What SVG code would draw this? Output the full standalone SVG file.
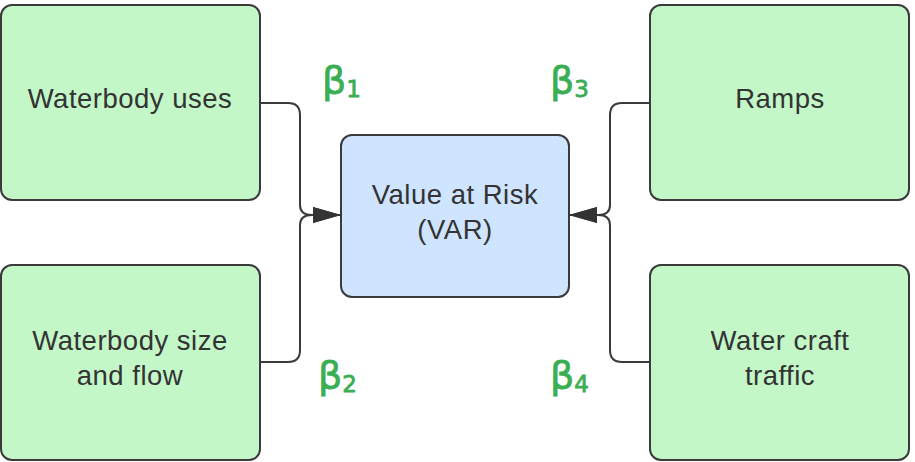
<svg xmlns="http://www.w3.org/2000/svg" width="915" height="462" viewBox="0 0 915 462">
<style>
.g{fill:#c3f7c8;stroke:#3a3a3a;stroke-width:2}
.b{fill:#cfe4ff;stroke:#3a3a3a;stroke-width:2}
.t{font-family:"Liberation Sans",Arial,sans-serif;font-size:27.5px;letter-spacing:0.5px;fill:#333;text-anchor:middle}
.beta{font-family:"DejaVu Sans","Liberation Sans",sans-serif;font-size:38px;fill:#3aae52;stroke:#3aae52;stroke-width:0.8}
.sub{font-size:23px}
.c{fill:none;stroke:#3a3a3a;stroke-width:2}
</style>
<defs>
<marker id="ah" viewBox="0 0 28 16" refX="28" refY="8" markerWidth="28" markerHeight="16" markerUnits="userSpaceOnUse" orient="auto">
<path d="M0,0 L28,8 L0,16 Z" fill="#333"/>
</marker>
</defs>
<g id="n1"><rect class="g" x="1" y="5" width="259" height="195" rx="11"/><text class="t" x="130" y="108">Waterbody uses</text></g>
<g id="n2"><rect class="g" x="1" y="265" width="259" height="195" rx="11"/><text class="t" x="130" y="350">Waterbody size</text><text class="t" x="130" y="385">and flow</text></g>
<g id="n3"><rect class="g" x="650" y="5" width="259" height="195" rx="11"/><text class="t" x="780" y="108">Ramps</text></g>
<g id="n4"><rect class="g" x="650" y="265" width="259" height="195" rx="11"/><text class="t" x="780" y="350">Water craft</text><text class="t" x="780" y="385">traffic</text></g>
<g id="n5"><rect class="b" x="341" y="135" width="228" height="162" rx="11"/><text class="t" x="455" y="204">Value at Risk</text><text class="t" x="455" y="239">(VAR)</text></g>
<g id="connectors">
<path class="c" d="M260,103 H288 Q300,103 300,115 V205 Q300,215 312,215 H341" marker-end="url(#ah)"/>
<path class="c" d="M260,362 H288 Q300,362 300,350 V225 Q300,215 312,215 H341" marker-end="url(#ah)"/>
<path class="c" d="M650,103 H622 Q610,103 610,115 V205 Q610,215 598,215 H569" marker-end="url(#ah)"/>
<path class="c" d="M650,362 H622 Q610,362 610,350 V225 Q610,215 598,215 H569" marker-end="url(#ah)"/>
</g>
<g id="labels">
<text class="beta" x="322" y="93">β<tspan class="sub" dy="4">1</tspan></text>
<text class="beta" x="550" y="93">β<tspan class="sub" dy="4">3</tspan></text>
<text class="beta" x="318" y="388">β<tspan class="sub" dy="4">2</tspan></text>
<text class="beta" x="550" y="388">β<tspan class="sub" dy="4">4</tspan></text>
</g>
</svg>
